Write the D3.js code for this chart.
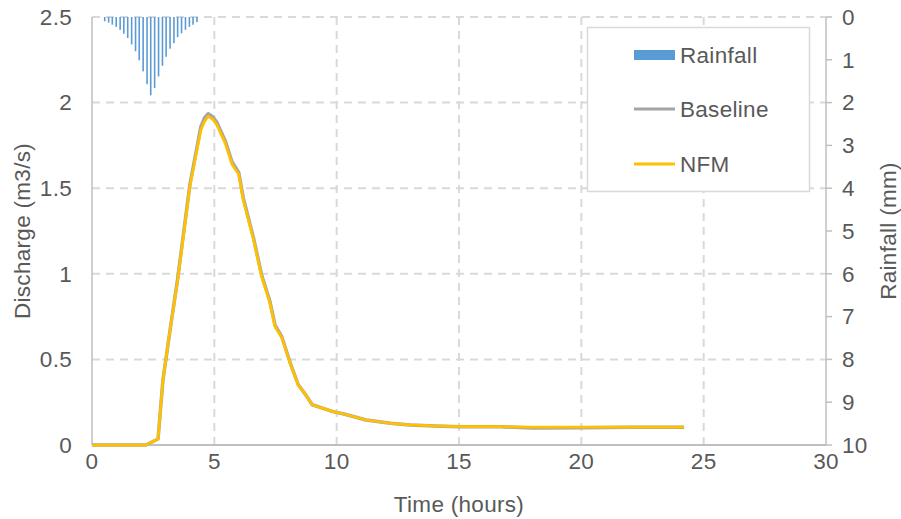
<!DOCTYPE html>
<html>
<head>
<meta charset="utf-8">
<script src="https://cdn.jsdelivr.net/npm/d3@7"></script>
<style>
  html, body { margin: 0; padding: 0; background: #fff; }
  svg { display: block; font-family: "Liberation Sans", Arial, sans-serif; }
</style>
</head>
<body>
<svg id="chart" width="901" height="519"></svg>
<script>
// ---- Data ----
const rainTime = [0.52,0.68,0.83,0.99,1.15,1.30,1.46,1.62,1.78,1.93,2.09,2.25,2.40,2.56,2.72,2.88,3.03,3.19,3.35,3.50,3.66,3.82,3.98,4.13,4.29];
const rainMm   = [0.10,0.13,0.18,0.23,0.30,0.39,0.49,0.64,0.80,1.01,1.27,1.57,1.83,1.66,1.39,1.14,0.93,0.74,0.61,0.47,0.38,0.30,0.23,0.18,0.12];

const flowTime = [0,2.2,2.7,2.9,3.2,3.5,4.0,4.45,4.6,4.75,4.95,5.1,5.45,5.72,6.0,6.18,6.6,6.93,7.27,7.48,7.75,8.1,8.43,8.75,9.0,9.45,9.85,10.3,11.2,12.2,13.0,14.0,15.0,16.7,18.0,20.0,22.0,24.2];
const baseline = [0,0,0.035,0.38,0.68,0.97,1.52,1.86,1.91,1.935,1.915,1.885,1.775,1.655,1.59,1.445,1.21,0.995,0.84,0.70,0.635,0.48,0.352,0.29,0.235,0.214,0.195,0.181,0.146,0.127,0.117,0.111,0.107,0.106,0.100,0.101,0.103,0.104];
const nfm      = [0,0,0.035,0.38,0.68,0.96,1.51,1.84,1.89,1.92,1.90,1.87,1.76,1.64,1.58,1.43,1.20,0.985,0.83,0.69,0.63,0.477,0.35,0.29,0.234,0.214,0.195,0.181,0.146,0.127,0.117,0.111,0.107,0.107,0.105,0.104,0.104,0.104];

const xTicks = [0,5,10,15,20,25,30];
const yTicks = [0,0.5,1,1.5,2,2.5];
const yTickLabels = ["0","0.5","1","1.5","2","2.5"];
const rTicks = [0,1,2,3,4,5,6,7,8,9,10];
const legendLabels = ["Rainfall","Baseline","NFM"];

// ---- Layout ----
const L = 92, R = 826, T = 17, B = 445;
const textColor = "#595959", gridColor = "#d9d9d9", axisColor = "#bfbfbf";
const cRain = "#5b9bd5", cBase = "#a5a5a5", cNfm = "#ffc000";
const fs = 22.5, ls = "0.3px";

const svg = d3.select("#chart");
const x = d3.scaleLinear().domain([0,30]).range([L,R]);
const y = d3.scaleLinear().domain([0,2.5]).range([B,T]);
const yR = d3.scaleLinear().domain([0,10]).range([T,B]);

// gridlines
const g = svg.append("g");
g.selectAll(".hg").data(yTicks.filter(d => d > 0)).join("line")
  .attr("x1", L).attr("x2", R).attr("y1", d => y(d)).attr("y2", d => y(d))
  .attr("stroke", gridColor).attr("stroke-width", 2).attr("stroke-dasharray", "8,6");
g.selectAll(".vg").data(xTicks.filter(d => d > 0 && d < 30)).join("line")
  .attr("x1", d => x(d)).attr("x2", d => x(d)).attr("y1", T).attr("y2", B)
  .attr("stroke", gridColor).attr("stroke-width", 2).attr("stroke-dasharray", "8,6");

// rainfall bars (hanging from top)
svg.append("g").selectAll("rect").data(rainTime.map((t,i) => ({t, v: rainMm[i]}))).join("rect")
  .attr("x", d => x(d.t) - 0.8).attr("width", 1.6)
  .attr("y", yR(0)).attr("height", d => yR(d.v) - yR(0))
  .attr("fill", cRain);

// axes lines
svg.append("line").attr("x1", L).attr("x2", L).attr("y1", T).attr("y2", B)
  .attr("stroke", axisColor).attr("stroke-width", 1.5);
svg.append("line").attr("x1", R).attr("x2", R).attr("y1", T).attr("y2", B)
  .attr("stroke", axisColor).attr("stroke-width", 1.5);
svg.append("g").selectAll("line").data(rTicks).join("line")
  .attr("x1", R).attr("x2", R + 6).attr("y1", d => yR(d)).attr("y2", d => yR(d))
  .attr("stroke", axisColor).attr("stroke-width", 1.5);
svg.append("line").attr("x1", L).attr("x2", R).attr("y1", B).attr("y2", B)
  .attr("stroke", axisColor).attr("stroke-width", 2);

// lines
const line = d3.line().x((d,i) => x(flowTime[i])).y(d => y(d));
svg.append("path").datum(baseline).attr("d", line)
  .attr("fill", "none").attr("stroke", cBase).attr("stroke-width", 3.5).attr("stroke-linejoin", "round");
svg.append("path").datum(nfm).attr("d", line)
  .attr("fill", "none").attr("stroke", cNfm).attr("stroke-width", 2.75).attr("stroke-linejoin", "round");

// tick labels
svg.append("g").selectAll("text").data(yTicks).join("text")
  .attr("x", L - 20).attr("y", d => y(d)).attr("dy", "0.35em")
  .attr("text-anchor", "end").attr("font-size", fs).attr("letter-spacing", ls).attr("fill", textColor)
  .text((d,i) => yTickLabels[i]);
svg.append("g").selectAll("text").data(rTicks).join("text")
  .attr("x", R + 16).attr("y", d => yR(d)).attr("dy", "0.35em")
  .attr("text-anchor", "start").attr("font-size", fs).attr("letter-spacing", ls).attr("fill", textColor)
  .text(d => d);
svg.append("g").selectAll("text").data(xTicks).join("text")
  .attr("x", d => x(d)).attr("y", B + 24)
  .attr("text-anchor", "middle").attr("font-size", fs).attr("letter-spacing", ls).attr("fill", textColor)
  .text(d => d);

// axis titles
svg.append("text").attr("transform", `translate(30,${(T+B)/2}) rotate(-90)`)
  .attr("text-anchor", "middle").attr("font-size", fs).attr("letter-spacing", ls).attr("fill", textColor)
  .text("Discharge (m3/s)");
svg.append("text").attr("transform", `translate(896,${(T+B)/2}) rotate(-90)`)
  .attr("text-anchor", "middle").attr("font-size", fs).attr("letter-spacing", ls).attr("fill", textColor)
  .text("Rainfall (mm)");
svg.append("text").attr("x", (L+R)/2).attr("y", 512)
  .attr("text-anchor", "middle").attr("font-size", fs).attr("letter-spacing", ls).attr("fill", textColor)
  .text("Time (hours)");

// legend
const lg = svg.append("g");
lg.append("rect").attr("x", 587.5).attr("y", 27.5).attr("width", 222).attr("height", 164)
  .attr("fill", "#fff").attr("stroke", gridColor).attr("stroke-width", 1.5);
const ly = [55, 109, 164];
legendLabels.forEach((lab, i) => {
  if (i === 0) {
    lg.append("rect").attr("x", 634).attr("y", ly[i] - 5).attr("width", 41).attr("height", 10).attr("fill", cRain);
  } else {
    lg.append("line").attr("x1", 634).attr("x2", 675).attr("y1", ly[i]).attr("y2", ly[i])
      .attr("stroke", i === 1 ? cBase : cNfm).attr("stroke-width", 3);
  }
  lg.append("text").attr("x", 680).attr("y", ly[i]).attr("dy", "0.35em")
    .attr("font-size", fs).attr("letter-spacing", ls).attr("fill", textColor).text(lab);
});
</script>
</body>
</html>
